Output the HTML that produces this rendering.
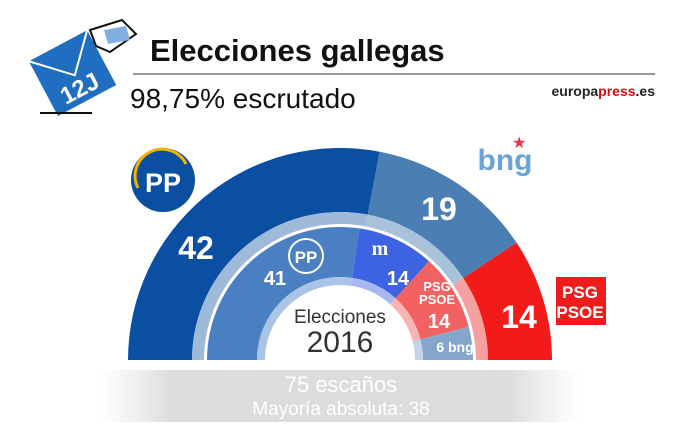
<!DOCTYPE html><html><head><meta charset="utf-8"><style>
body{margin:0;width:696px;height:434px;background:#fff;overflow:hidden;font-family:"Liberation Sans",sans-serif}
</style></head><body>
<svg id="s" width="696" height="434" xmlns="http://www.w3.org/2000/svg">
<defs><linearGradient id="g" x1="0" x2="1"><stop offset="0" stop-color="#e4e4e4" stop-opacity="0"/><stop offset="0.15" stop-color="#dcdcdc"/><stop offset="0.85" stop-color="#dcdcdc"/><stop offset="1" stop-color="#e4e4e4" stop-opacity="0"/></linearGradient></defs>
<g transform="translate(72,70) rotate(-28)">
<rect x="-34" y="-28" width="66" height="62" fill="#1f6ec0"/>
<path d="M-34,-28 L0,6 L32,-28" fill="none" stroke="#fff" stroke-width="2"/>
<text x="-2" y="28" fill="#fff" font-size="24" font-weight="bold" text-anchor="middle">12J</text>
</g>
<path d="M90,30 L122,20 L136,34 L110,52 L96,46 Z" fill="#fff" stroke="#111" stroke-width="2"/>
<path d="M104,30 L126,26 L130,40 L108,44Z" fill="#7fb0e0"/>
<line x1="40" y1="113" x2="92" y2="113" stroke="#111" stroke-width="2"/>
<text x="150" y="61" font-size="31" font-weight="bold" fill="#111">Elecciones gallegas</text>
<line x1="133" y1="74" x2="655" y2="74" stroke="#999" stroke-width="2"/>
<text x="130" y="108" font-size="28" fill="#111">98,75% escrutado</text>
<text x="655" y="96" font-size="14" font-weight="bold" text-anchor="end" fill="#222">europa<tspan fill="#d01010">press</tspan>.es</text>
<rect x="100" y="370" width="480" height="52" fill="url(#g)"/>
<g id="arcs"></g>
<circle cx="163" cy="180" r="32" fill="#0a4fa0"/>
<path d="M138,188 A26,26 0 0 1 186,164" fill="none" stroke="#f5b000" stroke-width="3"/>
<text x="163" y="192" font-size="27" font-weight="bold" fill="#fff" text-anchor="middle">PP</text>
<text x="505" y="170" font-size="30" font-weight="bold" fill="#6aa3d6" text-anchor="middle">bng</text>
<text x="512" y="148" font-size="16" fill="#e8334a">★</text>
<rect x="556" y="277" width="50" height="48" fill="#ee1c1c"/>
<text x="580" y="298" font-size="17" font-weight="bold" fill="#fff" text-anchor="middle">PSG</text>
<text x="580" y="318" font-size="17" font-weight="bold" fill="#fff" text-anchor="middle">PSOE</text>
<g font-weight="bold" fill="#fff" text-anchor="middle">
<text x="196" y="259" font-size="32">42</text>
<text x="439" y="220" font-size="32">19</text>
<text x="519" y="328" font-size="32">14</text>
<text x="275" y="285" font-size="20">41</text>
<circle cx="306" cy="256" r="17" fill="none" stroke="#fff" stroke-width="2"/>
<text x="306" y="263" font-size="17">PP</text>
<text x="380" y="255" font-size="20" font-family="Liberation Serif">m</text>
<text x="398" y="285" font-size="20">14</text>
<text x="437" y="291" font-size="13">PSG</text>
<text x="437" y="304" font-size="13">PSOE</text>
<text x="439" y="328" font-size="20">14</text>
<text x="455" y="352" font-size="14">6 bng</text>
</g>
<text x="340" y="323" font-size="19" fill="#333" text-anchor="middle">Elecciones</text>
<text x="340" y="352" font-size="30" fill="#333" text-anchor="middle">2016</text>
<text x="341" y="392" font-size="22" fill="#fff" text-anchor="middle">75 escaños</text>
<text x="341" y="415" font-size="19" fill="#fff" text-anchor="middle">Mayoría absoluta: 38</text>
</svg>
<script>
var cx=340,cy=360,NS="http://www.w3.org/2000/svg",g=document.getElementById("arcs");
function p(r,a){a=a*Math.PI/180;return (cx+r*Math.cos(a)).toFixed(2)+","+(cy-r*Math.sin(a)).toFixed(2);}
function arc(r1,r2,a1,a2,c){var d="M"+p(r2,a1)+" A"+r2+","+r2+" 0 0 1 "+p(r2,a2)+" L"+p(r1,a2)+" A"+r1+","+r1+" 0 0 0 "+p(r1,a1)+"Z";
var e=document.createElementNS(NS,"path");e.setAttribute("d",d);e.setAttribute("fill",c);g.appendChild(e);}
var outer=[[42,"#0b4fa2","#9fb9d8"],[19,"#4b7eb2","#a9c2dc"],[14,"#f31a1a","#f7a0a0"]];
var a=180;outer.forEach(function(s){var b=a-180*s[0]/75;arc(148,212,a,b,s[1]);arc(136,148,a,b,s[2]);a=b;});
var inner=[[41,"#4a80c2","#a9c4e4"],[14,"#3d62e2","#a7b8f0"],[14,"#f26262","#f8b4b4"],[6,"#84a6cc","#c4d4e6"]];
a=180;inner.forEach(function(s){var b=a-180*s[0]/75;arc(83,133,a,b,s[1]);arc(75,83,a,b,s[2]);a=b;});
</script>
</body></html>
